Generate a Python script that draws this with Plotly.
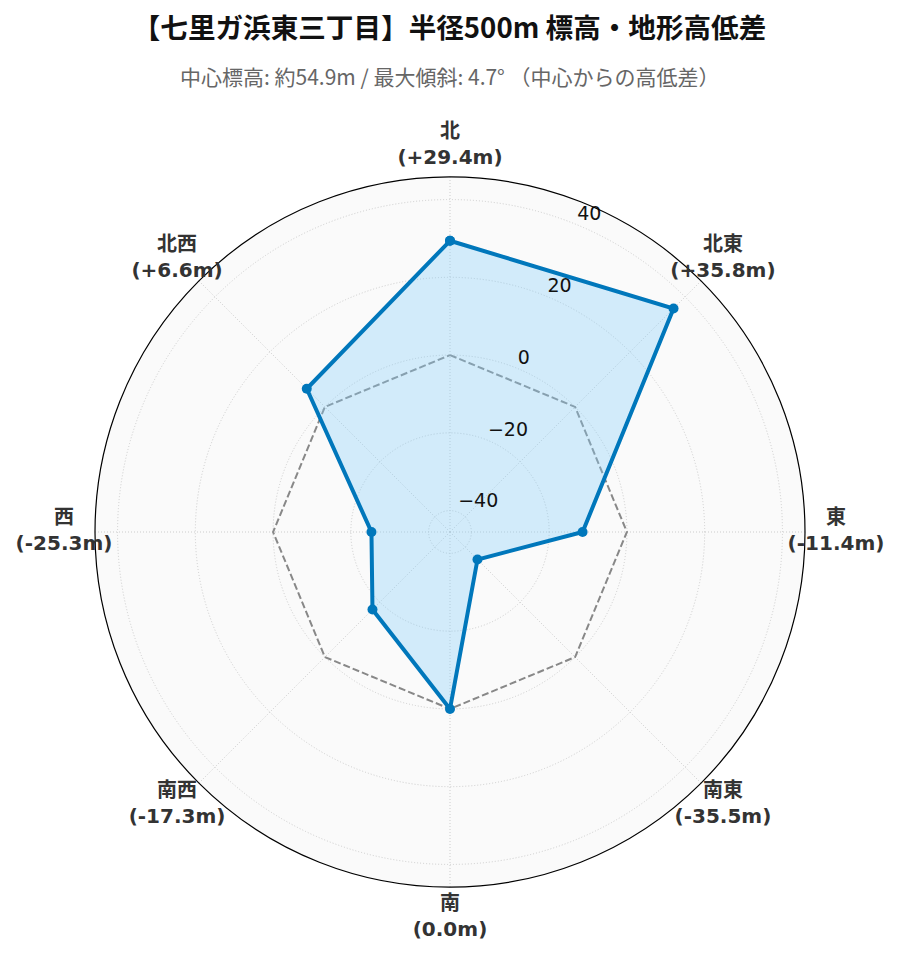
import plotly.graph_objects as go

directions = ["北", "北東", "東", "南東", "南", "南西", "西", "北西"]
angles = [0, 45, 90, 135, 180, 225, 270, 315]
diffs = [29.4, 35.8, -11.4, -35.5, 0.0, -17.3, -25.3, 6.6]
zero_line = [0.0] * 8
radial_ticks = [-40, -20, 0, 20, 40]
r_min, r_max = -45.5, 45.8

title_text = "【七里ガ浜東三丁目】半径500m 標高・地形高低差"
subtitle_text = "中心標高: 約54.9m / 最大傾斜: 4.7° （中心からの高低差）"

label_text = [f"{d}<br>({v:+.1f}m)" if v != 0 else f"{d}<br>({v:.1f}m)" for d, v in zip(directions, diffs)]
radial_tick_text = [str(t).replace("-", "\u2212") for t in radial_ticks]

# geometry (pixels) of the main polar area
W, H = 899, 962
cx, cy, R = 450, 532, 355
R_lab_area = 400          # radius of the overlay polar used for rim labels
R_lab = 386               # distance of direction-label centres from the centre
units_per_px = (r_max - r_min) / R
label_r_max = r_min + R_lab_area * units_per_px
label_r = r_min + R_lab * units_per_px
rlabel_angle = 22.5       # compass angle along which radial tick labels sit

theta_closed = angles + [angles[0]]
grid_dash = "1px,2px"

fig = go.Figure()
fig.add_trace(go.Scatterpolar(
    r=zero_line + [zero_line[0]], theta=theta_closed, mode="lines",
    line=dict(color="#888888", width=2, dash="7px,3px"), showlegend=False, hoverinfo="skip"))
fig.add_trace(go.Scatterpolar(
    r=diffs + [diffs[0]], theta=theta_closed, mode="lines+markers",
    fill="toself", fillcolor="rgba(135,206,250,0.35)",
    line=dict(color="#0077BB", width=4), marker=dict(size=10, color="#0077BB"),
    showlegend=False))
# radial tick labels, anchored (left/bottom) at each tick value on the 22.5° ray
fig.add_trace(go.Scatterpolar(
    r=radial_ticks, theta=[rlabel_angle] * len(radial_ticks),
    mode="text", text=radial_tick_text, textposition="top right",
    textfont=dict(family="DejaVu Sans", size=19, color="#111111"),
    showlegend=False, hoverinfo="skip"))
fig.add_trace(go.Scatterpolar(
    r=[label_r] * 8, theta=angles, mode="text", text=label_text,
    textposition="middle center", subplot="polar2",
    textfont=dict(family="DejaVu Sans, Noto Sans CJK JP", size=20, weight="bold", color="#333333"),
    showlegend=False, hoverinfo="skip"))

hidden_axis = dict(showline=False, showgrid=False, showticklabels=False, ticks="")

fig.update_layout(
    width=W, height=H,
    paper_bgcolor="white",
    margin=dict(l=0, r=0, t=0, b=0),
    font=dict(family="DejaVu Sans, Noto Sans CJK JP", color="#222"),
    title=dict(text=title_text, x=0.5, xanchor="center", y=1 - 28 / H, yanchor="middle",
               font=dict(family="Noto Sans CJK JP", size=27.6, weight="bold", color="#111")),
    annotations=[dict(text=subtitle_text, x=0.5, y=1 - 76 / H, xref="paper", yref="paper",
                      showarrow=False, xanchor="center", yanchor="middle",
                      font=dict(family="Noto Sans CJK JP", size=21, color="#666666"))],
    polar=dict(
        domain=dict(x=[(cx - R) / W, (cx + R) / W], y=[1 - (cy + R) / H, 1 - (cy - R) / H]),
        bgcolor="#fafafa",
        angularaxis=dict(
            direction="clockwise", rotation=90,
            tickmode="array", tickvals=angles, showticklabels=False, ticks="",
            showline=True, linecolor="black", linewidth=1.2,
            showgrid=True, gridcolor="#cccccc", griddash=grid_dash, gridwidth=1,
        ),
        radialaxis=dict(
            range=[r_min, r_max], tickmode="array", tickvals=radial_ticks,
            showticklabels=False, showline=False, ticks="",
            showgrid=True, gridcolor="#cccccc", griddash=grid_dash, gridwidth=1,
        ),
    ),
    polar2=dict(
        domain=dict(x=[(cx - R_lab_area) / W, (cx + R_lab_area) / W],
                    y=[1 - (cy + R_lab_area) / H, 1 - (cy - R_lab_area) / H]),
        bgcolor="rgba(0,0,0,0)",
        angularaxis=dict(direction="clockwise", rotation=90, **hidden_axis),
        radialaxis=dict(range=[r_min, label_r_max], **hidden_axis),
    ),
)

fig.write_html("out.html", config={"displayModeBar": False},
               post_script="document.body.style.margin='0';")
